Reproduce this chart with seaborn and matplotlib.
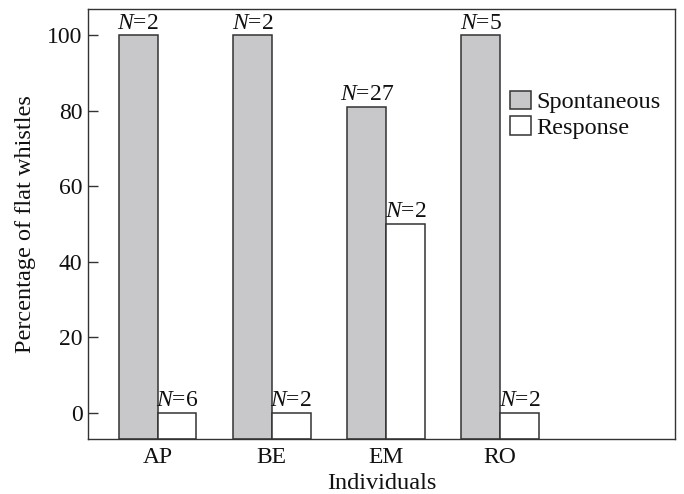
import matplotlib
matplotlib.use("Agg")
import matplotlib.pyplot as plt
import seaborn as sns
import pandas as pd

individuals = ["AP", "BE", "EM", "RO"]
spontaneous = [100, 100, 81, 100]
response = [0, 0, 50, 0]
n_spont = [2, 2, 27, 5]
n_resp = [6, 2, 2, 2]

df = pd.DataFrame({
    "Individual": individuals * 2,
    "Percent": spontaneous + response,
    "Type": ["Spontaneous"] * 4 + ["Response"] * 4,
    "N": n_spont + n_resp,
})

sns.set_style("white")
plt.rcParams["font.family"] = ["Liberation Serif", "DejaVu Serif"]
plt.rcParams["mathtext.fontset"] = "custom"
plt.rcParams["mathtext.it"] = "Liberation Serif:italic"
plt.rcParams["mathtext.rm"] = "Liberation Serif"
plt.rcParams["text.color"] = "#111111"
plt.rcParams["axes.labelcolor"] = "#111111"
plt.rcParams["xtick.color"] = "#111111"
plt.rcParams["ytick.color"] = "#111111"

fig, ax = plt.subplots(figsize=(6.84, 4.94), dpi=100)
fig.subplots_adjust(left=0.1287, right=0.9868, top=0.9818, bottom=0.1113)

edge = "#333333"
sns.barplot(data=df, x="Individual", y="Percent", hue="Type",
            palette={"Spontaneous": "#c8c8ca", "Response": "#ffffff"},
            width=0.68, gap=0, edgecolor=edge, linewidth=1.1,
            saturation=1, ax=ax, legend=True)

ymin, ymax = -6.9, 106.9
ax.set_ylim(ymin, ymax)
ax.set_xlim(-0.609, 4.53)

fs = 17
for ci, cont in enumerate(ax.containers):
    ns = n_spont if ci == 0 else n_resp
    for p, n in zip(cont.patches, ns):
        top = p.get_y() + p.get_height()
        p.set_y(ymin)
        p.set_height(top - ymin)
        ax.text(p.get_x() + p.get_width() / 2, top + 0.4, r"$N$=" + str(n),
                ha="center", va="bottom", fontsize=fs)

ax.set_yticks([0, 20, 40, 60, 80, 100])
ax.tick_params(axis="y", left=True, direction="in", labelsize=fs, length=7,
               width=1, color=edge, pad=4)
ax.tick_params(axis="x", bottom=False, labelsize=fs, length=0, pad=6)
ax.set_xlabel("Individuals", fontsize=17.5, labelpad=3)
ax.set_ylabel("Percentage of flat whistles", fontsize=17.5, labelpad=8)
for s in ax.spines.values():
    s.set_color(edge)
    s.set_linewidth(1)
    s.set_visible(True)

leg = ax.legend(loc="upper left", bbox_to_anchor=(0.719, 0.81), frameon=False,
                fontsize=17.5, handlelength=0.85, handleheight=0.8,
                handletextpad=0.25, labelspacing=0.12, borderaxespad=0,
                borderpad=0)
for h in leg.legend_handles:
    h.set_edgecolor(edge)
    h.set_linewidth(1.1)

fig.savefig("out.png", dpi=100)
